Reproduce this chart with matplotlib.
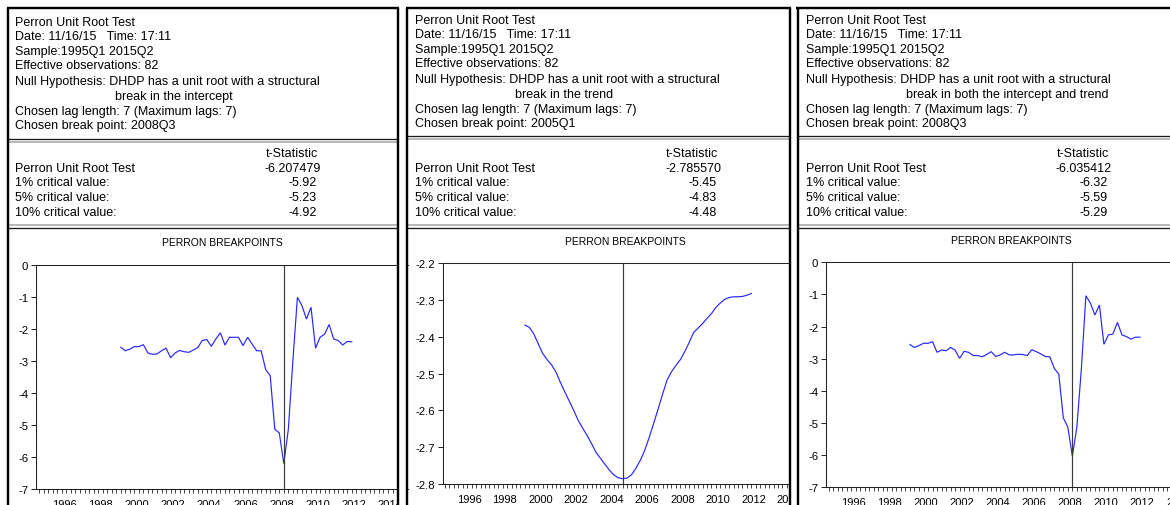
import matplotlib
matplotlib.use("Agg")
import matplotlib.pyplot as plt
from matplotlib.lines import Line2D
from matplotlib.patches import Rectangle
from matplotlib.ticker import FixedLocator, MultipleLocator, FixedFormatter

W, H = 1170, 506
FONT = "Liberation Sans"

# ---------------- data ----------------
# quarterly observations, index 0 = 1995Q1; plotted breakpoints start at 1999Q3 (index 18)
first_idx = 18
intercept_t = [-2.57, -2.68, -2.63, -2.55, -2.55, -2.49, -2.75, -2.79, -2.78, -2.68,
               -2.60, -2.90, -2.75, -2.67, -2.71, -2.73, -2.66, -2.58, -2.36, -2.33,
               -2.54, -2.31, -2.12, -2.50, -2.26, -2.26, -2.26, -2.52, -2.26, -2.47,
               -2.68, -2.68, -3.27, -3.46, -5.13, -5.25, -6.207, -5.13, -2.99, -1.01,
               -1.27, -1.69, -1.32, -2.60, -2.26, -2.16, -1.86, -2.31, -2.36, -2.50,
               -2.39, -2.40]
trend_t = [-2.368, -2.374, -2.392, -2.419, -2.445, -2.462, -2.476, -2.496, -2.524, -2.550,
           -2.575, -2.600, -2.627, -2.648, -2.668, -2.690, -2.714, -2.730, -2.746, -2.762,
           -2.775, -2.783, -2.7856, -2.784, -2.775, -2.757, -2.735, -2.708, -2.673, -2.635,
           -2.596, -2.556, -2.518, -2.495, -2.478, -2.462, -2.440, -2.415, -2.388, -2.376,
           -2.364, -2.350, -2.337, -2.320, -2.308, -2.298, -2.293, -2.291, -2.291, -2.290,
           -2.287, -2.282]
both_t = [-2.56, -2.65, -2.59, -2.52, -2.52, -2.47, -2.80, -2.73, -2.75, -2.65,
          -2.73, -2.99, -2.77, -2.80, -2.90, -2.90, -2.94, -2.87, -2.78, -2.93,
          -2.88, -2.80, -2.88, -2.88, -2.86, -2.87, -2.90, -2.72, -2.78, -2.85,
          -2.93, -2.94, -3.30, -3.48, -4.84, -5.13, -6.035, -5.13, -3.32, -1.04,
          -1.27, -1.64, -1.33, -2.55, -2.26, -2.23, -1.87, -2.26, -2.31, -2.39,
          -2.33, -2.33]
break_quarters = ["2008Q3", "2005Q1", "2008Q3"]
year_labels = [1996, 1998, 2000, 2002, 2004, 2006, 2008, 2010, 2012, 2014]
yticks_level = [0, -1, -2, -3, -4, -5, -6, -7]
yticks_trend = [-2.2, -2.3, -2.4, -2.5, -2.6, -2.7, -2.8]

header_lines = ["Perron Unit Root Test",
                "Date: 11/16/15   Time: 17:11",
                "Sample:1995Q1 2015Q2",
                "Effective observations: 82",
                "Null Hypothesis: DHDP has a unit root with a structural"]
break_desc = ["break in the intercept", "break in the trend",
              "break in both the intercept and trend"]
lag_line = "Chosen lag length: 7 (Maximum lags: 7)"
t_stats = ["-6.207479", "-2.785570", "-6.035412"]
crit_names = ["1% critical value:", "5% critical value:", "10% critical value:"]
crit_vals = [["-5.92", "-5.23", "-4.92"],
             ["-5.45", "-4.83", "-4.48"],
             ["-6.32", "-5.59", "-5.29"]]
series = [intercept_t, trend_t, both_t]


def q_index(label):
    y, q = int(label[:4]), int(label[-1])
    return (y - 1995) * 4 + (q - 1)


# ---------------- layout (pixels) ----------------
panels = [
    dict(L=8.0, R=398.0, tx=15, hy0=23.0, dl=(140.0, 143.0), ax_left=36, ax_top=266.0,
         ax_bot=490.0, a=39.2, b=4.53, ylim=(-7, 0), yt=yticks_level, fmt="{:.0f}",
         title=(222, 243.3), z=1),
    dict(L=407.0, R=790.0, tx=415, hy0=21.0, dl=(136.8, 139.6), ax_left=443, ax_top=264.3,
         ax_bot=485.0, a=445.0, b=4.44, ylim=(-2.8, -2.2), yt=yticks_trend, fmt="{:.1f}",
         title=(625, 242.3), z=2),
    dict(L=797.5, R=1200.0, tx=806, hy0=21.0, dl=(136.8, 139.6), ax_left=826, ax_top=263.3,
         ax_bot=488.3, a=828.8, b=4.51, ylim=(-7, 0), yt=yticks_level, fmt="{:.0f}",
         title=(1011, 240.7), z=3),
]

fig = plt.figure(figsize=(W / 100, H / 100), dpi=100)
fig.patch.set_facecolor("white")


def fx(x):
    return x / W


def fy(y):
    return 1 - y / H


def hline(x0, x1, y, color, lw_px, z=5):
    fig.add_artist(Line2D([fx(x0), fx(x1)], [fy(y), fy(y)], color=color,
                          lw=lw_px * 0.72, zorder=z, solid_capstyle="butt"))


def vline(x, y0, y1, color, lw_px, z=5):
    fig.add_artist(Line2D([fx(x), fx(x)], [fy(y0), fy(y1)], color=color,
                          lw=lw_px * 0.72, zorder=z, solid_capstyle="butt"))


TXT = 9.0
rows_off = [0, 13.7, 28.5, 43.2, 58.5, 73.8, 88.7, 103.4]
table_y = [154.0, 168.7, 183.2, 198.0, 212.5]

for i, p in enumerate(panels):
    tx = p["tx"]
    # header text
    lines = header_lines + [None, lag_line, "Chosen break point: " + break_quarters[i]]
    for k, s in enumerate(lines):
        y = p["hy0"] + rows_off[k]
        if s is None:
            fig.text(fx(tx + 100), fy(y), break_desc[i], ha="left", va="center",
                     fontsize=TXT, family=FONT)
        else:
            fig.text(fx(tx), fy(y), s, ha="left", va="center", fontsize=TXT, family=FONT)
    # double rule under header
    hline(p["L"], p["R"], p["dl"][0], "#1a1a1a", 1.3)
    hline(p["L"], p["R"], p["dl"][1], "#a8a8a8", 1.6)
    # statistics table
    fig.text(fx(tx + 277), fy(table_y[0]), "t-Statistic", ha="center", va="center",
             fontsize=TXT, family=FONT)
    fig.text(fx(tx), fy(table_y[1]), "Perron Unit Root Test", ha="left", va="center",
             fontsize=TXT, family=FONT)
    fig.text(fx(tx + 306), fy(table_y[1]), t_stats[i], ha="right", va="center",
             fontsize=TXT, family=FONT)
    for k in range(3):
        fig.text(fx(tx), fy(table_y[2 + k]), crit_names[k], ha="left", va="center",
                 fontsize=TXT, family=FONT)
        fig.text(fx(tx + 301.5), fy(table_y[2 + k]), crit_vals[i][k], ha="right",
                 va="center", fontsize=TXT, family=FONT)
    hline(p["L"], p["R"], 225.6, "#a8a8a8", 1.6)
    hline(p["L"], p["R"], 229.0, "#1a1a1a", 1.3)

    # graph title
    fig.text(fx(p["title"][0]), fy(p["title"][1]), "PERRON BREAKPOINTS", ha="center",
             va="center", fontsize=7.5, family=FONT)

    # graph axes
    a, b = p["a"], p["b"]
    ax_right = a + 81.5 * b
    ax = fig.add_axes([fx(p["ax_left"]), fy(p["ax_bot"]),
                       (ax_right - p["ax_left"]) / W, (p["ax_bot"] - p["ax_top"]) / H])
    ax.set_zorder(p["z"])
    ax.set_xlim((p["ax_left"] - a) / b, (ax_right - a) / b)
    ax.set_ylim(*p["ylim"])
    xs = list(range(first_idx, first_idx + len(series[i])))
    ax.plot(xs, series[i], color="#2626ff", lw=0.85, solid_joinstyle="miter")
    ax.axvline(q_index(break_quarters[i]), color="#3a3a3a", lw=0.85)
    ax.spines["right"].set_visible(False)
    for side in ["left", "top", "bottom"]:
        ax.spines[side].set_linewidth(0.75)
        ax.spines[side].set_color("#222222")
    ax.yaxis.set_major_locator(FixedLocator(p["yt"]))
    ax.yaxis.set_major_formatter(FixedFormatter([p["fmt"].format(v) for v in p["yt"]]))
    xpos = [(yr - 1995) * 4 + 1.5 for yr in year_labels]
    ax.xaxis.set_major_locator(FixedLocator(xpos))
    ax.xaxis.set_major_formatter(FixedFormatter([str(yr) for yr in year_labels]))
    ax.xaxis.set_minor_locator(MultipleLocator(1))
    ax.tick_params(axis="y", direction="out", length=3.6, width=0.7, pad=2.0,
                   labelsize=8.2, colors="#222222", labelcolor="black")
    ax.tick_params(axis="x", which="major", length=0, pad=7.3, labelsize=8)
    ax.tick_params(axis="x", which="minor", direction="out", length=3.0, width=0.65,
                   color="#333333")
    for lab in ax.get_xticklabels() + ax.get_yticklabels():
        lab.set_family(FONT)

# white gaps masking overflow of the graphs between the panels
fig.add_artist(Rectangle((fx(399.2), 0), fx(405.8) - fx(399.2), 1, transform=fig.transFigure,
                         facecolor="white", edgecolor="none", zorder=1.5))
fig.add_artist(Rectangle((fx(791.0), 0), fx(825.0) - fx(791.0), fy(250) - 0,
                         transform=fig.transFigure, facecolor="white", edgecolor="none",
                         zorder=2.5))

# thick panel frames
for p in panels:
    hline(p["L"] - 1.2, min(p["R"] + 1.2, W + 5), 8.5, "black", 2.4, z=10)
    vline(p["L"], 8.5, H + 5, "black", 2.4, z=10)
    if p["R"] < W:
        vline(p["R"], 8.5, H + 5, "black", 2.4, z=10)

fig.savefig("out.png", dpi=100, facecolor="white")
